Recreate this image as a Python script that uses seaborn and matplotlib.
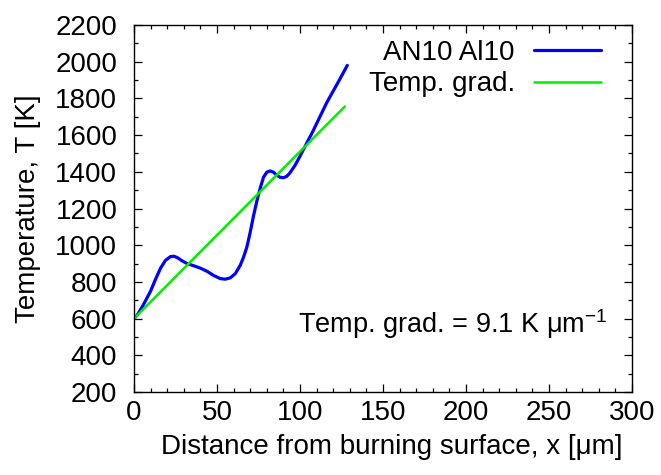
import matplotlib
matplotlib.use("Agg")
import matplotlib.pyplot as plt
from matplotlib.ticker import MultipleLocator
import pandas as pd
import seaborn as sns

# Temperature profile of AN10 Al10 above the burning surface
distance_um = [0, 2, 5, 8, 10, 13, 16, 19, 22, 24, 26, 29, 32, 36, 40, 44, 48,
               52, 55, 58, 61, 64, 66, 68, 70, 72, 74, 76, 78, 80, 82, 84, 86,
               88, 90, 92, 94, 97, 100, 104, 108, 112, 116, 120, 124, 128.5]
temperature_K = [600, 620, 665, 715, 750, 815, 875, 918, 938, 940, 933, 915,
                 900, 888, 875, 858, 835, 818, 815, 822, 845, 890, 935, 990,
                 1070, 1160, 1240, 1310, 1370, 1398, 1405, 1398, 1382, 1370,
                 1368, 1375, 1395, 1435, 1485, 1555, 1625, 1700, 1775, 1840,
                 1905, 1980]

# Linear fit of the temperature gradient
grad_x = [0, 127]
grad_T = [600, 1756]

legend_labels = ["AN10 Al10", "Temp. grad."]
x_ticks = [0, 50, 100, 150, 200, 250, 300]
y_ticks = [200, 400, 600, 800, 1000, 1200, 1400, 1600, 1800, 2000, 2200]

sns.set_theme(style="ticks")
plt.rcParams["font.family"] = ["Liberation Sans", "DejaVu Sans"]
plt.rcParams["mathtext.fontset"] = "custom"
plt.rcParams["mathtext.rm"] = "Liberation Sans"
plt.rcParams["mathtext.it"] = "Liberation Sans"
plt.rcParams["text.color"] = "black"
plt.rcParams["axes.labelcolor"] = "black"

FS = 20

profile = pd.DataFrame({"x": distance_um, "T": temperature_K})
fit = pd.DataFrame({"x": grad_x, "T": grad_T})

fig = plt.figure(figsize=(6.61, 4.75), dpi=100)
ax = fig.add_axes([0.2027, 0.1747, 0.7534, 0.7726])

sns.lineplot(data=profile, x="x", y="T", ax=ax, color="#0000ff", lw=2.3,
             label=legend_labels[0], sort=False, estimator=None)
sns.lineplot(data=fit, x="x", y="T", ax=ax, color="#00ee00", lw=1.8,
             label=legend_labels[1], sort=False, estimator=None)

ax.set_xlim(0, 300)
ax.set_ylim(200, 2200)
ax.set_xticks(x_ticks)
ax.set_yticks(y_ticks)
ax.xaxis.set_minor_locator(MultipleLocator(10))
ax.yaxis.set_minor_locator(MultipleLocator(100))
ax.tick_params(which="both", direction="in", top=True, right=True,
               colors="black", labelcolor="black", labelsize=FS, width=0.9)
ax.tick_params(which="major", length=6)
ax.tick_params(which="minor", length=3)
ax.tick_params(axis="x", which="major", pad=6)
ax.tick_params(axis="y", which="major", pad=12)
for s in ax.spines.values():
    s.set_color("black")
    s.set_linewidth(1.0)

ax.set_xlabel("Distance from burning surface, x [\u03bcm]", fontsize=FS,
              labelpad=4, color="black")
ax.set_ylabel("Temperature, T [K]", fontsize=FS, labelpad=10, color="black")
ax.xaxis.set_label_coords(0.518, -0.115)

leg = ax.legend(loc="upper right", frameon=False, markerfirst=False,
                fontsize=FS, handlelength=2.4, labelspacing=0.2,
                handletextpad=0.7, borderaxespad=0.0,
                bbox_to_anchor=(0.96, 0.99))
for t in leg.get_texts():
    t.set_color("black")

ax.text(0.95, 0.185, "Temp. grad. = 9.1 K \u03bcm$^{-1}$", transform=ax.transAxes,
        ha="right", va="center", fontsize=19.5, color="black")

fig.savefig("out.png", dpi=100)
